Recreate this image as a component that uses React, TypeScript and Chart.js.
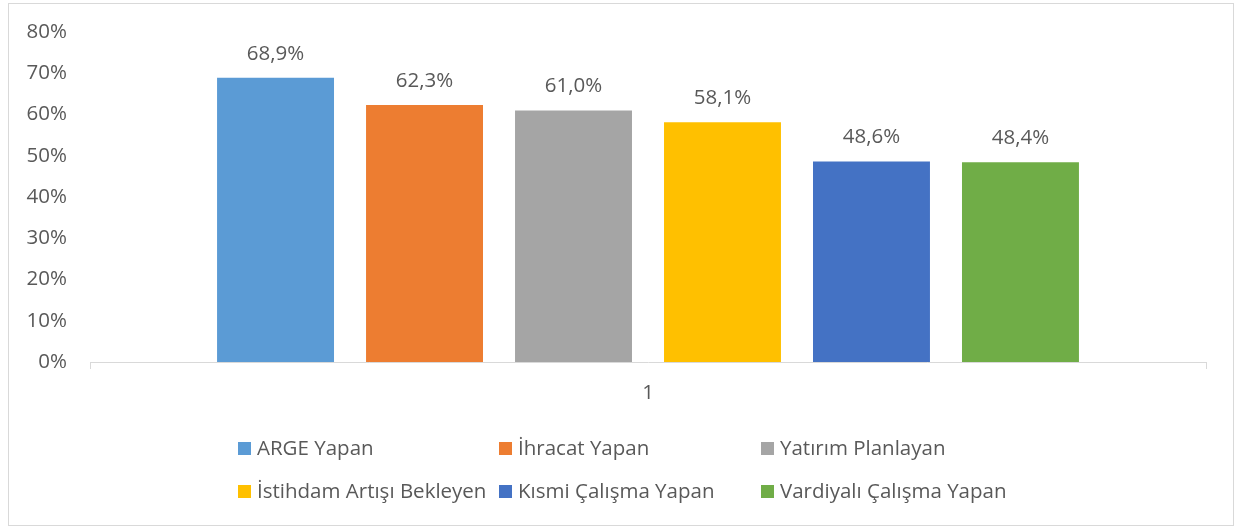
import React, { useEffect, useRef } from "react";
import { Chart, registerables } from "chart.js";

Chart.register(...registerables);

const categories = ["1"];
const seriesNames = [
  "ARGE Yapan",
  "İhracat Yapan",
  "Yatırım Planlayan",
  "İstihdam Artışı Bekleyen",
  "Kısmi Çalışma Yapan",
  "Vardiyalı Çalışma Yapan",
];
const seriesValues = [68.9, 62.3, 61.0, 58.1, 48.6, 48.4];
const seriesColors = ["#5B9BD5", "#ED7D31", "#A5A5A5", "#FFC000", "#4472C4", "#70AD47"];
const yTicks = [0, 10, 20, 30, 40, 50, 60, 70, 80];

const FONT = "'Open Sans', 'Noto Sans', sans-serif";
const TEXT = "#595959";
const SIZE = 20.5;

const fmt = (v: number) => v.toFixed(1).replace(".", ",") + "%";

const extrasPlugin = {
  id: "extras",
  afterDraw(chart: any) {
    const ctx = chart.ctx;
    ctx.save();
    // data labels
    ctx.font = `${SIZE}px ${FONT}`;
    ctx.fillStyle = TEXT;
    ctx.textAlign = "center";
    ctx.textBaseline = "middle";
    chart.data.datasets.forEach((ds: any, i: number) => {
      const meta = chart.getDatasetMeta(i);
      meta.data.forEach((bar: any, j: number) => {
        ctx.fillText(fmt(ds.data[j]), bar.x, bar.y - 24);
      });
    });
    // legend
    const cols = [238, 499, 761];
    const rows = [448.5, 491.5];
    ctx.textAlign = "left";
    chart.data.datasets.forEach((ds: any, i: number) => {
      const x = cols[i % 3];
      const y = rows[Math.floor(i / 3)];
      ctx.fillStyle = ds.backgroundColor;
      ctx.fillRect(x, y - 6.5, 13, 13);
      ctx.fillStyle = TEXT;
      ctx.fillText(ds.label, x + 19, y + 1);
    });
    // outer border
    ctx.strokeStyle = "#d9d9d9";
    ctx.lineWidth = 1;
    ctx.strokeRect(8.5, 3.5, 1225, 522);
    ctx.restore();
  },
};

export default function App() {
  const ref = useRef<HTMLCanvasElement>(null);
  useEffect(() => {
    document.body.style.margin = "0";
    const canvas = ref.current!;
    const chart = new Chart(canvas, {
      type: "bar",
      data: {
        labels: categories,
        datasets: seriesNames.map((name, i) => ({
          label: name,
          data: [seriesValues[i]],
          backgroundColor: seriesColors[i],
          borderWidth: 0,
          categoryPercentage: 0.801,
          barPercentage: 0.785,
        })),
      },
      options: {
        animation: false,
        responsive: false,
        maintainAspectRatio: false,
        devicePixelRatio: 1,
        layout: { padding: { left: 0, right: 29, top: 32, bottom: 120 } },
        plugins: {
          legend: { display: false },
          tooltip: { enabled: false },
        },
        scales: {
          x: {
            offset: true,
            grid: {
              display: true,
              offset: true,
              drawOnChartArea: false,
              drawTicks: true,
              tickLength: 7,
              color: "#d9d9d9",
            },
            border: { display: true, color: "#d9d9d9", width: 1 },
            ticks: { color: TEXT, font: { family: FONT, size: SIZE }, padding: 12 },
            afterFit: (s: any) => {
              s.height = 45;
            },
          },
          y: {
            min: 0,
            max: 80,
            afterBuildTicks: (s: any) => {
              s.ticks = yTicks.map((v) => ({ value: v }));
            },
            grid: { display: false, drawTicks: true, tickLength: 23 },
            border: { display: false },
            ticks: {
              color: TEXT,
              font: { family: FONT, size: SIZE },
              padding: 0,
              callback: (v: any) => v + "%",
            },
            afterFit: (s: any) => {
              s.width = 90;
            },
          },
        },
      },
      plugins: [extrasPlugin],
    });
    return () => chart.destroy();
  }, []);
  return (
    <div style={{ width: 1235, height: 527, background: "#fff" }}>
      <canvas ref={ref} width={1235} height={527} style={{ display: "block" }} />
    </div>
  );
}
